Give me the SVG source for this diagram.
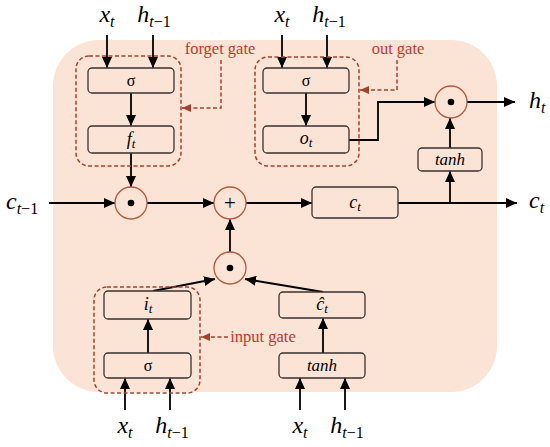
<svg xmlns="http://www.w3.org/2000/svg" width="550" height="447" viewBox="0 0 550 447">
<style>
.box{fill:#fbe3d6;stroke:#3a3230;stroke-width:1.3}
.gate{fill:none;stroke:#a3432a;stroke-width:1.5;stroke-dasharray:4 2.5}
.op{fill:#fbe3d6;stroke:#b4573c;stroke-width:1.3}
.ln{fill:none;stroke:#000;stroke-width:1.8}
.dl{fill:none;stroke:#a3432a;stroke-width:1.5;stroke-dasharray:4 2.5}
.m{font-style:italic;fill:#000}
.s{fill:#000}
.g{fill:#c0392b;font-size:16.5px}
</style>
<defs>
<marker id="a" markerUnits="userSpaceOnUse" markerWidth="12" markerHeight="10" refX="11" refY="5" orient="auto"><path d="M0,0 L11,5 L0,10 Z" fill="#000"/></marker>
<marker id="r" markerUnits="userSpaceOnUse" markerWidth="10" markerHeight="8" refX="9" refY="4" orient="auto"><path d="M0,0 L9,4 L0,8 Z" fill="#a3432a"/></marker>
</defs>
<rect id="cell" x="53" y="40" width="444" height="352" rx="46" fill="#fbe3d6"/>
<g id="connectors">
<path class="ln" d="M107,35 V68" marker-end="url(#a)"/>
<path class="ln" d="M153,35 V68" marker-end="url(#a)"/>
<path class="ln" d="M131,93 V126" marker-end="url(#a)"/>
<path class="ln" d="M131,153 V187" marker-end="url(#a)"/>
<path class="ln" d="M49,203 H115" marker-end="url(#a)"/>
<path class="ln" d="M147,203 H214" marker-end="url(#a)"/>
<path class="ln" d="M246,203 H312" marker-end="url(#a)"/>
<path class="ln" d="M398,203 H517" marker-end="url(#a)"/>
<path class="ln" d="M450,203 V171" marker-end="url(#a)"/>
<path class="ln" d="M450,148 V118" marker-end="url(#a)"/>
<path class="ln" d="M282,35 V68" marker-end="url(#a)"/>
<path class="ln" d="M327,35 V68" marker-end="url(#a)"/>
<path class="ln" d="M306,93 V126" marker-end="url(#a)"/>
<path class="ln" d="M349,140 H378 V102 H435" marker-end="url(#a)"/>
<path class="ln" d="M467,102 H515" marker-end="url(#a)"/>
<path class="ln" d="M230,252 V219" marker-end="url(#a)"/>
<path class="ln" d="M153,291 L215,279" marker-end="url(#a)"/>
<path class="ln" d="M323,292 L245,279" marker-end="url(#a)"/>
<path class="ln" d="M148,353 V319" marker-end="url(#a)"/>
<path class="ln" d="M125,410 V378" marker-end="url(#a)"/>
<path class="ln" d="M170,410 V378" marker-end="url(#a)"/>
<path class="ln" d="M323,353 V318" marker-end="url(#a)"/>
<path class="ln" d="M300,410 V378" marker-end="url(#a)"/>
<path class="ln" d="M345,410 V378" marker-end="url(#a)"/>
<path class="dl" d="M221,60 V108 H182" marker-end="url(#r)"/>
<path class="dl" d="M397,60 V90 H360" marker-end="url(#r)"/>
<path class="dl" d="M228,337 H201" marker-end="url(#r)"/>
</g>
<g font-family="'Liberation Serif', serif">
<g id="forget-gate">
<rect class="gate" x="76" y="56" width="105" height="110" rx="13"/>
<text class="g" x="220" y="54" text-anchor="middle">forget gate</text>
</g>
<g id="forget-sigma"><rect class="box" x="88" y="68" width="86" height="25" rx="4"/><text class="s" x="131" y="86" font-size="16" text-anchor="middle">σ</text></g>
<g id="forget-ft"><rect class="box" x="88" y="126" width="86" height="27" rx="4"/><text class="m" x="131" y="145" font-size="18" text-anchor="middle">f<tspan font-size="13" dy="3">t</tspan></text></g>
<g id="out-gate">
<rect class="gate" x="255" y="57" width="104" height="109" rx="13"/>
<text class="g" x="398" y="54" text-anchor="middle">out gate</text>
</g>
<g id="out-sigma"><rect class="box" x="263" y="68" width="86" height="25" rx="4"/><text class="s" x="306" y="86" font-size="16" text-anchor="middle">σ</text></g>
<g id="out-ot"><rect class="box" x="263" y="126" width="86" height="27" rx="4"/><text class="m" x="306" y="144" font-size="18" text-anchor="middle">o<tspan font-size="13" dy="3">t</tspan></text></g>
<g id="input-gate">
<rect class="gate" x="94" y="287" width="106" height="106" rx="13"/>
<text class="g" x="263" y="342" text-anchor="middle">input gate</text>
</g>
<g id="input-it"><rect class="box" x="104" y="291" width="87" height="28" rx="4"/><text class="m" x="148" y="310" font-size="18" text-anchor="middle">i<tspan font-size="13" dy="3">t</tspan></text></g>
<g id="input-sigma"><rect class="box" x="104" y="353" width="87" height="25" rx="4"/><text class="s" x="148" y="371" font-size="16" text-anchor="middle">σ</text></g>
<g id="cand-c"><rect class="box" x="279" y="292" width="86" height="26" rx="4"/><text class="m" x="322" y="310" font-size="18" text-anchor="middle">ĉ<tspan font-size="13" dy="3">t</tspan></text></g>
<g id="cand-tanh"><rect class="box" x="279" y="353" width="86" height="25" rx="4"/><text class="m" x="322" y="371" font-size="17" text-anchor="middle">tanh</text></g>
<g id="ct-box"><rect class="box" x="312" y="187" width="86" height="31" rx="4"/><text class="m" x="355" y="208" font-size="18" text-anchor="middle">c<tspan font-size="13" dy="3">t</tspan></text></g>
<g id="out-tanh"><rect class="box" x="418" y="148" width="64" height="23" rx="4"/><text class="m" x="450" y="165" font-size="17" text-anchor="middle">tanh</text></g>
<g id="mul-forget"><circle class="op" cx="131" cy="203" r="16"/><circle cx="131" cy="203" r="3.3"/></g>
<g id="add"><circle class="op" cx="230" cy="203" r="16"/><text class="s" x="230" y="210" font-size="21" text-anchor="middle">+</text></g>
<g id="mul-input"><circle class="op" cx="230" cy="268" r="16"/><circle cx="230" cy="268" r="3.3"/></g>
<g id="mul-out"><circle class="op" cx="451" cy="102" r="16"/><circle cx="451" cy="102" r="3.3"/></g>
<g id="labels">
<text class="m" x="107" y="22" font-size="24" text-anchor="middle">x<tspan font-size="16" dy="5">t</tspan></text>
<text class="m" x="154" y="22" font-size="24" text-anchor="middle">h<tspan font-size="16" dy="5">t</tspan><tspan font-size="16" font-style="normal">−1</tspan></text>
<text class="m" x="282" y="22" font-size="24" text-anchor="middle">x<tspan font-size="16" dy="5">t</tspan></text>
<text class="m" x="329" y="22" font-size="24" text-anchor="middle">h<tspan font-size="16" dy="5">t</tspan><tspan font-size="16" font-style="normal">−1</tspan></text>
<text class="m" x="125" y="433" font-size="24" text-anchor="middle">x<tspan font-size="16" dy="5">t</tspan></text>
<text class="m" x="172" y="433" font-size="24" text-anchor="middle">h<tspan font-size="16" dy="5">t</tspan><tspan font-size="16" font-style="normal">−1</tspan></text>
<text class="m" x="300" y="433" font-size="24" text-anchor="middle">x<tspan font-size="16" dy="5">t</tspan></text>
<text class="m" x="347" y="433" font-size="24" text-anchor="middle">h<tspan font-size="16" dy="5">t</tspan><tspan font-size="16" font-style="normal">−1</tspan></text>
<text class="m" x="6" y="209" font-size="24">c<tspan font-size="16" dy="5">t</tspan><tspan font-size="16" font-style="normal">−1</tspan></text>
<text class="m" x="529" y="208" font-size="24">c<tspan font-size="16" dy="5">t</tspan></text>
<text class="m" x="529" y="108" font-size="24">h<tspan font-size="16" dy="5">t</tspan></text>
</g>
</g>
</svg>
